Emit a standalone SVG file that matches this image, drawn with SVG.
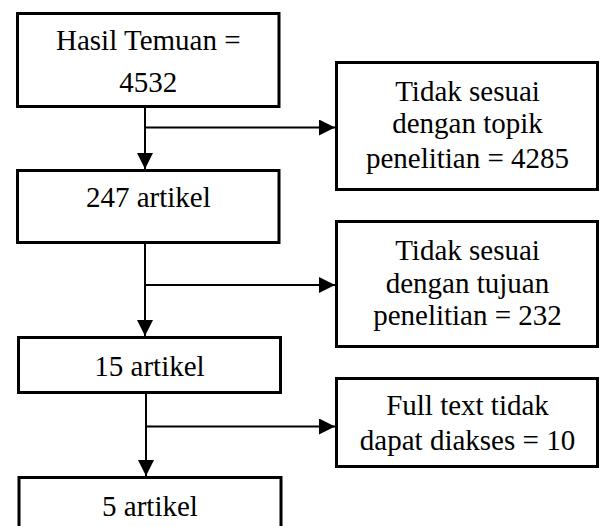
<svg xmlns="http://www.w3.org/2000/svg" width="600" height="526" viewBox="0 0 600 526">
<style>
.box{fill:#fff;stroke:#000;stroke-width:3}
.ln{fill:none;stroke:#000;stroke-width:2}
.t{font-family:'Liberation Serif', serif;font-size:29px;fill:#000;text-anchor:middle}
</style>
<defs>
<marker id="ah" markerUnits="userSpaceOnUse" markerWidth="16" markerHeight="16" refX="16" refY="8" orient="auto" viewBox="0 0 16 16">
<path d="M0,0 L16,8 L0,16 z" fill="#000"/>
</marker>
</defs>
<rect width="600" height="526" fill="#fff"/>
<g id="connectors">
<path class="ln" d="M145,106 V169" marker-end="url(#ah)"/>
<path class="ln" d="M145,127.5 H335" marker-end="url(#ah)"/>
<path class="ln" d="M145,242.5 V336" marker-end="url(#ah)"/>
<path class="ln" d="M145,285 H335" marker-end="url(#ah)"/>
<path class="ln" d="M146,392.5 V476" marker-end="url(#ah)"/>
<path class="ln" d="M146,426.5 H335" marker-end="url(#ah)"/>
</g>
<g id="n1">
<rect class="box" x="17.5" y="13.5" width="261.5" height="93"/>
<text class="t" x="148.3" y="50">Hasil Temuan =</text>
<text class="t" x="148.3" y="91.5">4532</text>
</g>
<g id="n2">
<rect class="box" x="17.5" y="170.5" width="261.5" height="72"/>
<text class="t" x="148.3" y="206.5">247 artikel</text>
</g>
<g id="n3">
<rect class="box" x="18.5" y="337.5" width="262" height="55"/>
<text class="t" x="149.5" y="375.5">15 artikel</text>
</g>
<g id="n4">
<rect class="box" x="19" y="477.5" width="262" height="60"/>
<text class="t" x="150" y="516">5 artikel</text>
</g>
<g id="r1">
<rect class="box" x="336.5" y="62.5" width="261" height="127"/>
<text class="t" x="467.5" y="101">Tidak sesuai</text>
<text class="t" x="467.5" y="133">dengan topik</text>
<text class="t" x="467.5" y="167.5">penelitian = 4285</text>
</g>
<g id="r2">
<rect class="box" x="336.5" y="221.5" width="261" height="125"/>
<text class="t" x="467.5" y="259.5">Tidak sesuai</text>
<text class="t" x="467.5" y="292.5">dengan tujuan</text>
<text class="t" x="467.5" y="325">penelitian = 232</text>
</g>
<g id="r3">
<rect class="box" x="336.5" y="378.5" width="261" height="88"/>
<text class="t" x="467.5" y="415">Full text tidak</text>
<text class="t" x="467.5" y="450">dapat diakses = 10</text>
</g>
</svg>
